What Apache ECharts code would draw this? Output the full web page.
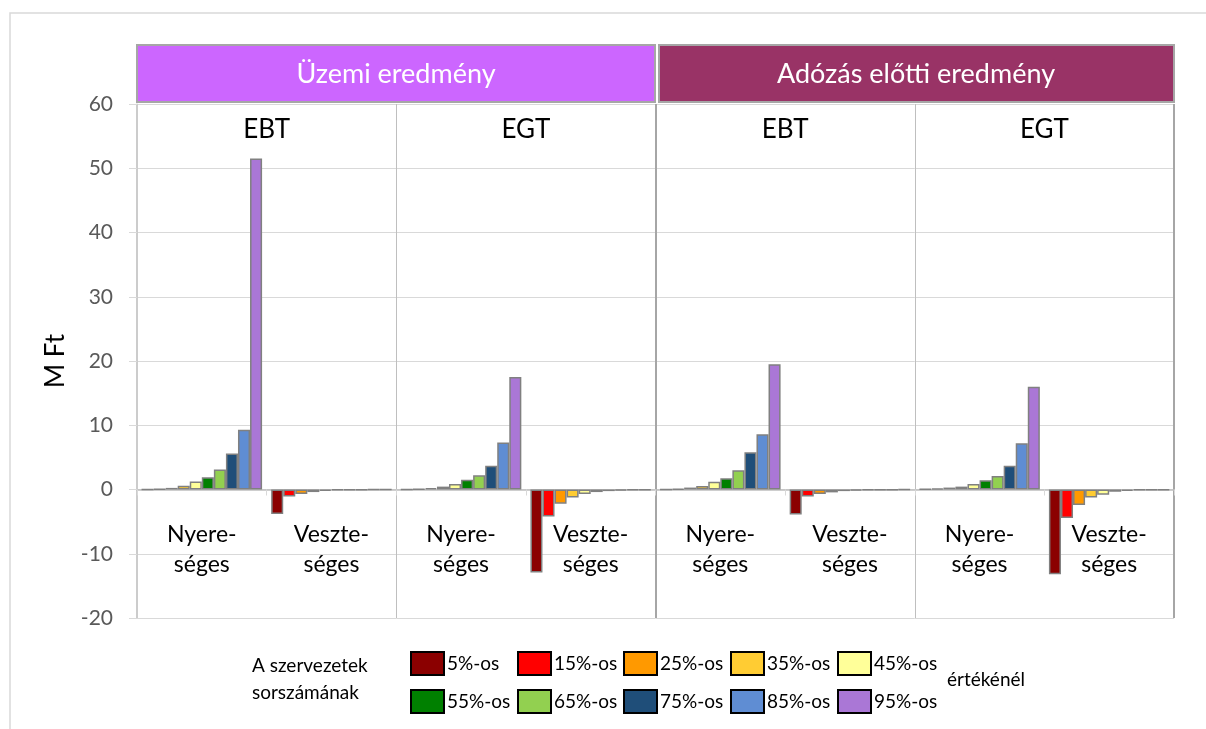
<!DOCTYPE html>
<html><head><meta charset="utf-8">
<script src="https://cdn.jsdelivr.net/npm/echarts@6/dist/echarts.min.js"></script>
<style>html,body{margin:0;padding:0;background:#fff}#c{width:1206px;height:729px}</style>
</head><body><div id="c"></div>
<script>
// Categories: 4 panels x 2 groups
const groupLabels = ['Nyere-\nséges','Veszte-\nséges','Nyere-\nséges','Veszte-\nséges','Nyere-\nséges','Veszte-\nséges','Nyere-\nséges','Veszte-\nséges'];
const panelLabels = ['EBT','EGT','EBT','EGT'];
const headerLabels = ['Üzemi eredmény','Adózás előtti eredmény'];
const seriesNames = ['5%-os','15%-os','25%-os','35%-os','45%-os','55%-os','65%-os','75%-os','85%-os','95%-os'];
const yTicks = {min:-20, max:60, interval:10};

// values per percentile, in category order above (M Ft)
const p05 = [0,    -3.8,  0,    -12.9, 0,    -3.9,  0.05, -13.2];
const p15 = [0.05, -1.1,  0.05, -4.2,  0.1,  -1.1,  0.15, -4.45];
const p25 = [0.25, -0.7,  0.2,  -2.2,  0.3,  -0.7,  0.3,  -2.4];
const p35 = [0.6,  -0.4,  0.45, -1.25, 0.55, -0.45, 0.45, -1.25];
const p45 = [1.25, -0.2,  0.85, -0.7,  1.2,  -0.25, 0.85, -0.8];
const p55 = [1.9,  -0.1,  1.5,  -0.4,  1.75, -0.15, 1.45, -0.35];
const p65 = [3.1,  -0.08, 2.2,  -0.25, 3.0,  -0.1,  2.1,  -0.2];
const p75 = [5.6,  -0.05, 3.7,  -0.15, 5.8,  -0.07, 3.7,  -0.1];
const p85 = [9.3,  -0.03, 7.3,  -0.1,  8.6,  -0.05, 7.2,  -0.05];
const p95 = [51.5, -0.02, 17.5, -0.05, 19.5, -0.03, 16.0, -0.05];
const seriesValues = [p05,p15,p25,p35,p45,p55,p65,p75,p85,p95];

const colors = ['#8B0000','#FF0000','#FF9900','#FFCC33','#FFFF99','#008000','#92D050','#1F4E79','#5F8DD3','#AA77D6'];
const FONT = 'Lato, "Noto Sans", sans-serif';

const GRID = {left:137, right:32, top:104, bottom:111};
const plotH = 729 - GRID.top - GRID.bottom;
// shift the category axis from the bottom edge up to the zero line
const zeroOffset = -plotH * (0 - yTicks.min) / (yTicks.max - yTicks.min);

const chart = echarts.init(document.getElementById('c'));

const series = seriesNames.map((n,i)=>({
  name:n, type:'bar', xAxisIndex:0, yAxisIndex:0,
  data: seriesValues[i],
  barGap:'0%', barCategoryGap:'7%',
  itemStyle:{color:colors[i], borderColor:'#808080', borderWidth:1.5},
  emphasis:{disabled:true}
}));

const legends = [0,1,2,3,4].map(c=>({
  orient:'vertical', left:[410,517,623,730,837][c], top:651, padding:0,
  itemWidth:33, itemHeight:23, itemGap:13,
  data:[seriesNames[c], seriesNames[c+5]],
  icon:'rect',
  itemStyle:{borderColor:'#000', borderWidth:2},
  textStyle:{fontSize:19, color:'#000', fontFamily:FONT, padding:[0,0,0,-2]},
  selectedMode:false
}));

chart.setOption({
  animation:false,
  textStyle:{fontFamily:FONT},
  grid:Object.assign({containLabel:false}, GRID),
  legend: legends,
  xAxis:[
    {type:'category', data:groupLabels, position:'bottom', offset:zeroOffset,
     axisLine:{show:true, onZero:false, lineStyle:{color:'#BFBFBF', width:1.5}},
     axisTick:{show:true, length:6, lineStyle:{color:'#D9D9D9'}},
     axisLabel:{margin:30, fontSize:23, lineHeight:30, color:'#000', fontFamily:FONT},
     splitLine:{show:false}},
    {type:'category', data:panelLabels, position:'top',
     axisLine:{show:false, onZero:false}, axisTick:{show:false},
     axisLabel:{inside:true, margin:13, fontSize:26, color:'#000', fontFamily:FONT},
     splitLine:{show:true, lineStyle:{color:'#BFBFBF', width:1}}},
    {type:'category', data:headerLabels, position:'top',
     axisLine:{show:false, onZero:false}, axisTick:{show:false}, axisLabel:{show:false},
     splitLine:{show:true, lineStyle:{color:'#A6A6A6', width:2}}}
  ],
  yAxis:{type:'value', min:yTicks.min, max:yTicks.max, interval:yTicks.interval,
    name:'M Ft', nameLocation:'middle', nameGap:68, nameRotate:90,
    nameTextStyle:{fontSize:26, color:'#000', fontFamily:FONT},
    axisLine:{show:true, onZero:false, lineStyle:{color:'#D9D9D9', width:1.5}},
    axisTick:{show:true, length:8, lineStyle:{color:'#D9D9D9'}},
    axisLabel:{fontSize:21, color:'#595959', margin:24, fontFamily:FONT},
    splitLine:{lineStyle:{color:'#D9D9D9', width:1}}},
  series: series,
  graphic:[
    {type:'rect', shape:{x:10, y:13, width:1220, height:740}, style:{fill:'none', stroke:'#D9D9D9', lineWidth:1.5}, z:-10},
    {type:'rect', shape:{x:137, y:45, width:518, height:57}, style:{fill:'#CC66FF', stroke:'#A6A6A6', lineWidth:2}},
    {type:'text', x:396, y:74, style:{text:headerLabels[0], fill:'#fff', font:'27px '+FONT, textAlign:'center', textVerticalAlign:'middle'}},
    {type:'rect', shape:{x:659, y:45, width:515, height:57}, style:{fill:'#993366', stroke:'#A6A6A6', lineWidth:2}},
    {type:'text', x:916, y:74, style:{text:headerLabels[1], fill:'#fff', font:'27px '+FONT, textAlign:'center', textVerticalAlign:'middle'}},
    {type:'text', x:252, y:679, style:{text:'A szervezetek\nsorszámának', fill:'#000', font:'19px '+FONT, lineHeight:27, textVerticalAlign:'middle'}},
    {type:'text', x:947, y:680, style:{text:'értékénél', fill:'#000', font:'19px '+FONT, textVerticalAlign:'middle'}}
  ]
});
</script></body></html>
